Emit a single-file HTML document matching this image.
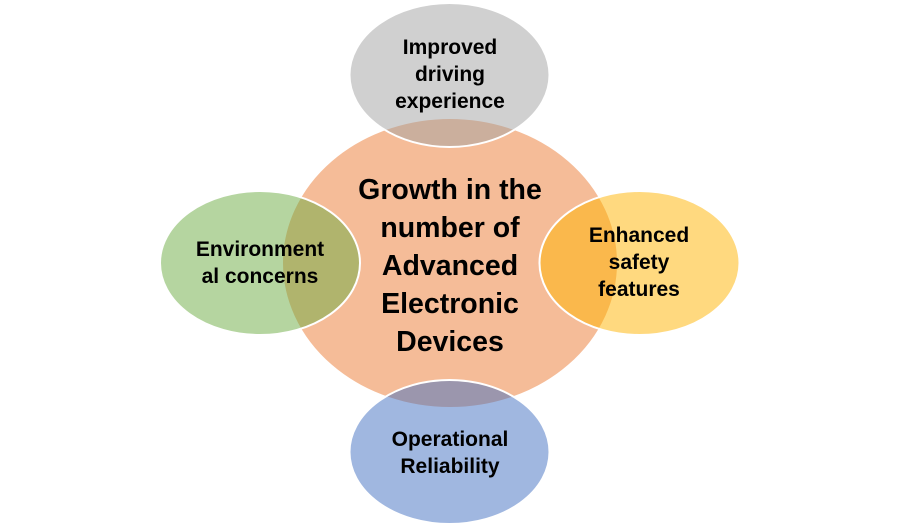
<!DOCTYPE html>
<html><head><meta charset="utf-8"><style>
html,body{margin:0;padding:0;background:#fff;}
svg{display:block}
text{font-family:"Liberation Sans",sans-serif;font-weight:bold;fill:#000;text-anchor:middle}
</style></head><body>
<svg width="900" height="527" viewBox="0 0 900 527">
<ellipse cx="450" cy="263" rx="168" ry="145" fill="#F5BC98" stroke="#fff" stroke-width="2"/>
<ellipse cx="449.5" cy="75" rx="100" ry="72" fill="#A1A1A1" fill-opacity="0.5" stroke="#fff" stroke-width="2"/>
<ellipse cx="260" cy="263" rx="100" ry="72" fill="#6BAB41" fill-opacity="0.5" stroke="#fff" stroke-width="2"/>
<ellipse cx="639.5" cy="263" rx="100" ry="72" fill="#FFB300" fill-opacity="0.5" stroke="#fff" stroke-width="2"/>
<ellipse cx="449.5" cy="452" rx="100" ry="72" fill="#416FC1" fill-opacity="0.5" stroke="#fff" stroke-width="2"/>
<g font-size="28.5">
<text x="450" y="199">Growth in the</text>
<text x="450" y="237">number of</text>
<text x="450" y="275">Advanced</text>
<text x="450" y="313">Electronic</text>
<text x="450" y="351">Devices</text>
</g>
<g font-size="21">
<text x="450" y="54">Improved</text>
<text x="450" y="81">driving</text>
<text x="450" y="108">experience</text>
<text x="260" y="256">Environment</text>
<text x="260" y="283">al concerns</text>
<text x="639" y="242">Enhanced</text>
<text x="639" y="269">safety</text>
<text x="639" y="296">features</text>
<text x="450" y="446">Operational</text>
<text x="450" y="473">Reliability</text>
</g>
</svg>
</body></html>
